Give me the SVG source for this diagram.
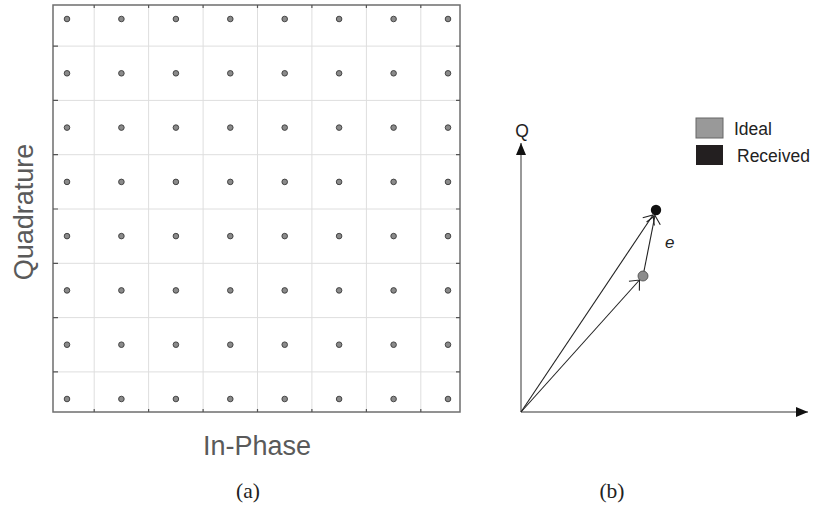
<svg xmlns="http://www.w3.org/2000/svg" width="814" height="506" viewBox="0 0 814 506">
<defs>
<style>
.grid{stroke:#dedede;stroke-width:1;fill:none}
.frame{stroke:#6e6e6e;stroke-width:1.5;fill:none}
.tick{stroke:#555;stroke-width:1.2}
.dot{fill:#8a8a8a;stroke:#3a3a3a;stroke-width:0.9}
.lbl{font-family:"Liberation Sans",Arial,sans-serif;fill:#5a5a5a;font-size:27px}
.cap{font-family:"Liberation Serif","Times New Roman",serif;fill:#222;font-size:21.5px}
.leg{font-family:"Liberation Sans",Arial,sans-serif;fill:#222;font-size:17.5px}
.axis{stroke:#777;stroke-width:1.5;fill:none}
.vec{stroke:#222;stroke-width:1.1;fill:none}
</style>
<marker id="ah" markerUnits="userSpaceOnUse" markerWidth="14" markerHeight="12" refX="12" refY="5" orient="auto">
<path d="M0,0 L12,5 L0,10 Z" fill="#111"/>
</marker>
<marker id="vh" markerUnits="userSpaceOnUse" markerWidth="18" markerHeight="20" refX="12" refY="10" orient="auto">
<path d="M4,3 L12,10 L4,17" fill="none" stroke="#222" stroke-width="1.1"/>
</marker>
<circle id="d" r="2.8" class="dot"/>
</defs>

<g id="panel-a">
<g id="gridlines" class="grid">
<path d="M94.2,5V412M148.6,5V412M203.1,5V412M257.5,5V412M311.9,5V412M366.4,5V412M420.8,5V412"/>
<path d="M53,46.1H460M53,100.4H460M53,154.7H460M53,209H460M53,263.3H460M53,317.6H460M53,371.9H460"/>
</g>
<rect class="frame" x="53" y="5" width="407" height="407"/>
<g id="ticks" class="tick">
<path d="M94.2,5v3M148.6,5v3M203.1,5v3M257.5,5v3M311.9,5v3M366.4,5v3M420.8,5v3"/>
<path d="M94.2,412v-3M148.6,412v-3M203.1,412v-3M257.5,412v-3M311.9,412v-3M366.4,412v-3M420.8,412v-3"/>
<path d="M53,46.1h5M53,100.4h5M53,154.7h5M53,209h5M53,263.3h5M53,317.6h5M53,371.9h5"/>
<path d="M460,46.1h-4M460,100.4h-4M460,154.7h-4M460,209h-4M460,263.3h-4M460,317.6h-4M460,371.9h-4"/>
</g>
<g id="constellation">
<g transform="translate(0,19)">
<use href="#d" x="67"/><use href="#d" x="121.4"/><use href="#d" x="175.9"/><use href="#d" x="230.3"/><use href="#d" x="284.7"/><use href="#d" x="339.1"/><use href="#d" x="393.6"/><use href="#d" x="448"/>
</g>
<g transform="translate(0,73.3)">
<use href="#d" x="67"/><use href="#d" x="121.4"/><use href="#d" x="175.9"/><use href="#d" x="230.3"/><use href="#d" x="284.7"/><use href="#d" x="339.1"/><use href="#d" x="393.6"/><use href="#d" x="448"/>
</g>
<g transform="translate(0,127.6)">
<use href="#d" x="67"/><use href="#d" x="121.4"/><use href="#d" x="175.9"/><use href="#d" x="230.3"/><use href="#d" x="284.7"/><use href="#d" x="339.1"/><use href="#d" x="393.6"/><use href="#d" x="448"/>
</g>
<g transform="translate(0,181.9)">
<use href="#d" x="67"/><use href="#d" x="121.4"/><use href="#d" x="175.9"/><use href="#d" x="230.3"/><use href="#d" x="284.7"/><use href="#d" x="339.1"/><use href="#d" x="393.6"/><use href="#d" x="448"/>
</g>
<g transform="translate(0,236.1)">
<use href="#d" x="67"/><use href="#d" x="121.4"/><use href="#d" x="175.9"/><use href="#d" x="230.3"/><use href="#d" x="284.7"/><use href="#d" x="339.1"/><use href="#d" x="393.6"/><use href="#d" x="448"/>
</g>
<g transform="translate(0,290.4)">
<use href="#d" x="67"/><use href="#d" x="121.4"/><use href="#d" x="175.9"/><use href="#d" x="230.3"/><use href="#d" x="284.7"/><use href="#d" x="339.1"/><use href="#d" x="393.6"/><use href="#d" x="448"/>
</g>
<g transform="translate(0,344.7)">
<use href="#d" x="67"/><use href="#d" x="121.4"/><use href="#d" x="175.9"/><use href="#d" x="230.3"/><use href="#d" x="284.7"/><use href="#d" x="339.1"/><use href="#d" x="393.6"/><use href="#d" x="448"/>
</g>
<g transform="translate(0,399)">
<use href="#d" x="67"/><use href="#d" x="121.4"/><use href="#d" x="175.9"/><use href="#d" x="230.3"/><use href="#d" x="284.7"/><use href="#d" x="339.1"/><use href="#d" x="393.6"/><use href="#d" x="448"/>
</g>
</g>
<text class="lbl" x="257" y="455" text-anchor="middle">In-Phase</text>
<text class="lbl" transform="translate(33,212) rotate(-90)" text-anchor="middle" font-size="28">Quadrature</text>
<text class="cap" x="248" y="498" text-anchor="middle">(a)</text>
</g>

<g id="panel-b">
<g id="axes">
<line class="axis" x1="521" y1="412" x2="521" y2="143" marker-end="url(#ah)"/>
<line class="axis" x1="521" y1="412" x2="808" y2="412" marker-end="url(#ah)"/>
</g>
<text class="leg" x="522" y="137" text-anchor="middle" font-size="19">Q</text>
<g id="connectors">
<line class="vec" x1="521" y1="412" x2="653" y2="215" marker-end="url(#vh)"/>
<line class="vec" x1="521" y1="412" x2="639.5" y2="280" marker-end="url(#vh)"/>
<line class="vec" x1="643" y1="276" x2="655" y2="215.5" marker-end="url(#vh)"/>
</g>
<g id="ideal-point"><circle cx="643" cy="276" r="5" fill="#8c8c8c" stroke="#444" stroke-width="0.8"/></g>
<g id="received-point"><circle cx="656" cy="210" r="5.2" fill="#111"/></g>
<text x="665" y="248" font-family="Liberation Sans,Arial,sans-serif" font-style="italic" font-size="17" fill="#222">e</text>
<g id="legend">
<g id="legend-ideal">
<rect x="696" y="118" width="27" height="20" fill="#999" stroke="#666" stroke-width="1"/>
<text class="leg" x="734" y="135">Ideal</text>
</g>
<g id="legend-received">
<rect x="696" y="145" width="27" height="20" fill="#231f20"/>
<text class="leg" x="737" y="162">Received</text>
</g>
</g>
<text class="cap" x="612" y="498" text-anchor="middle">(b)</text>
</g>
</svg>
